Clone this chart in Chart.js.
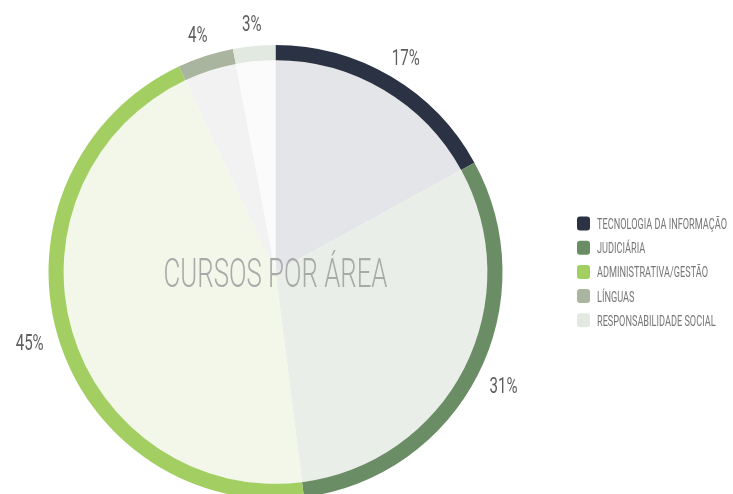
<!DOCTYPE html>
<html><head><meta charset="utf-8">
<script src="https://cdn.jsdelivr.net/npm/chart.js@4.4.1/dist/chart.umd.min.js"></script>
<style>
html,body{margin:0;padding:0;overflow:hidden;background:#fff;width:733px;height:494px}
#wrap{position:relative;width:733px;height:500px}
</style></head>
<body><div id="wrap"><canvas id="c"></canvas></div>
<script>
const categories = ['TECNOLOGIA DA INFORMAÇÃO','JUDICIÁRIA','ADMINISTRATIVA/GESTÃO','LÍNGUAS','RESPONSABILIDADE SOCIAL'];
const shares = [17, 31, 45, 4, 3];
const percentLabels = ['17%','31%','45%','4%','3%'];
const chartTitle = 'CURSOS POR ÁREA';
const ringColors = ['#2b3243','#6b8d65','#a3cf62','#a9b59f','#e1e9e1'];
const fillColors = ['#e4e5e8','#e9eee8','#f3f7ea','#f2f2f2','#fbfbfb'];

function drawScaled(ctx, text, x, yCenter, size, weight, sx, color, align) {
  ctx.save();
  ctx.font = weight + ' ' + size + 'px Roboto, "Liberation Sans", sans-serif';
  ctx.fillStyle = color;
  ctx.textBaseline = 'alphabetic';
  ctx.textAlign = align || 'left';
  const cap = ctx.measureText('H').actualBoundingBoxAscent;
  ctx.translate(x, yCenter + cap / 2);
  ctx.scale(sx, 1);
  ctx.fillText(text, 0, 0);
  ctx.restore();
}
function textWidth(ctx, text, size, weight) {
  ctx.save();
  ctx.font = weight + ' ' + size + 'px Roboto, "Liberation Sans", sans-serif';
  const w = ctx.measureText(text).width;
  ctx.restore();
  return w;
}

const decor = {
  id: 'decor',
  afterDraw(chart) {
    const ctx = chart.ctx;
    const arcs = chart.getDatasetMeta(0).data;
    const cx = arcs[0].x, cy = arcs[0].y, R = arcs[0].outerRadius;

    // centre title
    const tSize = 40;
    const tw = textWidth(ctx, chartTitle, tSize, 300);
    drawScaled(ctx, chartTitle, cx, cy, tSize, 300, 224 / tw, '#a9a9a9', 'center');

    // percentage labels
    const lSize = 22.5;
    const lsx = 28 / textWidth(ctx, '17%', lSize, 400);
    ctx.save();
    ctx.font = '400 ' + lSize + 'px Roboto, sans-serif';
    const lcap = ctx.measureText('H').actualBoundingBoxAscent;
    ctx.restore();
    arcs.forEach((a, i) => {
      const mid = (a.startAngle + a.endAngle) / 2;
      const ux = Math.cos(mid), uy = Math.sin(mid);
      const ax = cx + ux * (R + 15), ay = cy + uy * (R + 15);
      const w = textWidth(ctx, percentLabels[i], lSize, 400) * lsx;
      const px = ax + ux * w / 2, py = ay + uy * lcap / 2;
      drawScaled(ctx, percentLabels[i], px, py, lSize, 400, lsx, '#5e5e5e', 'center');
    });

    // legend
    const gSize = 15.5;
    const gsx = 130 / textWidth(ctx, categories[0], gSize, 400);
    const lx = chart.chartArea.right + 74;
    categories.forEach((c, i) => {
      const yc = 223.5 + i * 24.2;
      ctx.save();
      ctx.fillStyle = ringColors[i];
      ctx.beginPath();
      ctx.roundRect(lx, yc - 7, 13, 14, 3);
      ctx.fill();
      ctx.restore();
      drawScaled(ctx, c, lx + 20, yc, gSize, 400, gsx, '#777777', 'left');
    });
  }
};

new Chart(document.getElementById('c'), {
  type: 'pie',
  data: {
    labels: categories,
    datasets: [
      { data: shares, backgroundColor: ringColors, borderWidth: 0, weight: 1 },
      { data: shares, backgroundColor: fillColors, borderWidth: 0, weight: 14 }
    ]
  },
  options: {
    responsive: true,
    maintainAspectRatio: false,
    animation: false,
    layout: { padding: { top: 45, bottom: 1, left: 48, right: 230 } },
    plugins: { legend: { display: false }, tooltip: { enabled: false } }
  },
  plugins: [decor]
});
</script>
</body></html>
